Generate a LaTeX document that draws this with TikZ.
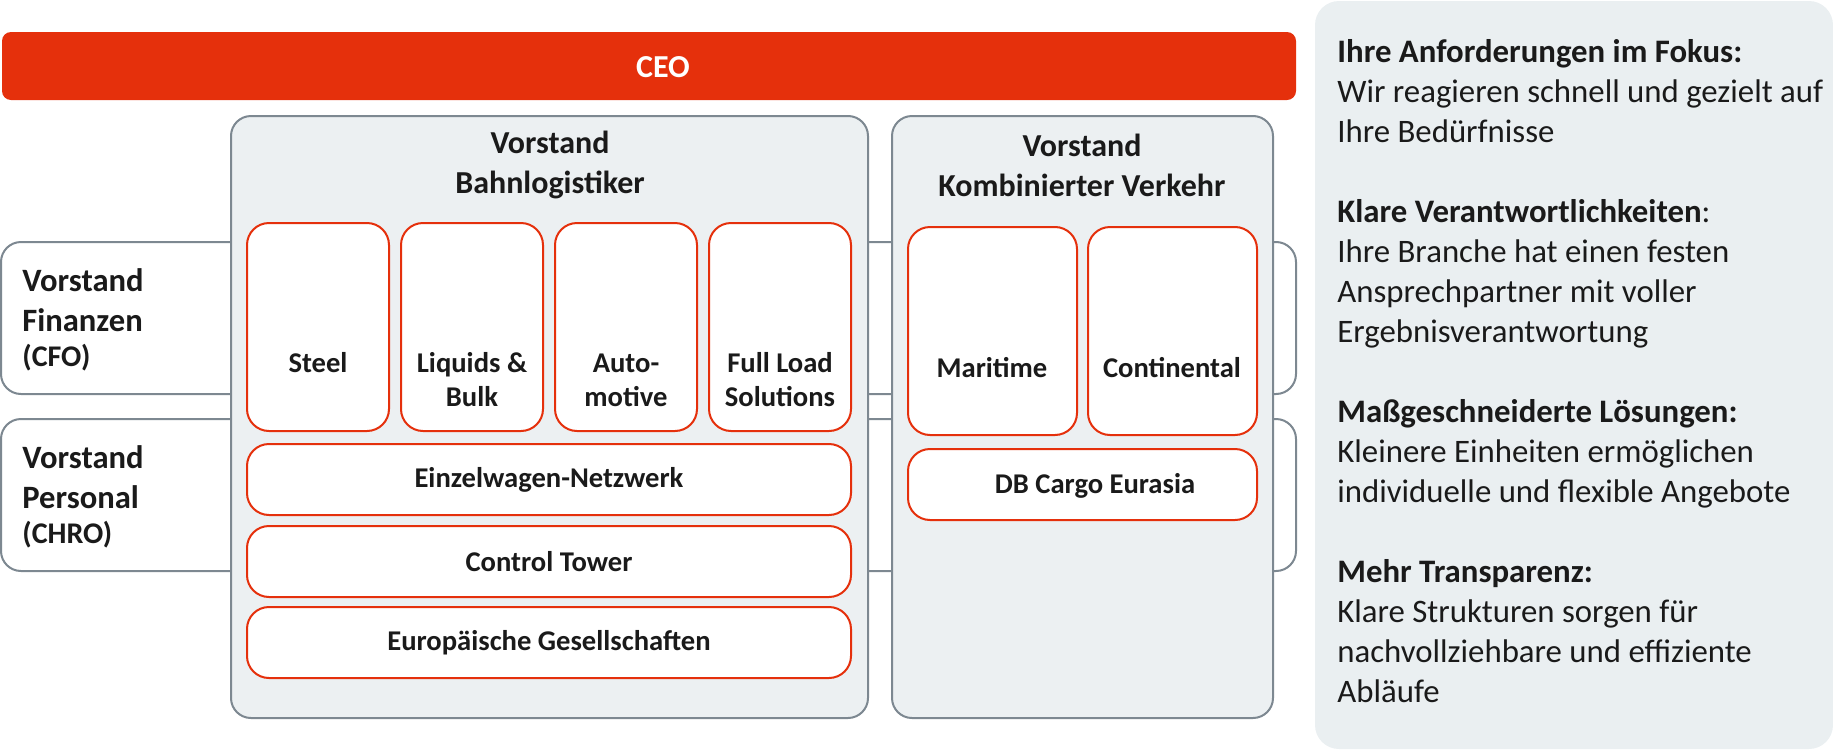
\documentclass[tikz,border=0pt]{standalone}
\usepackage{fontspec}
\setmainfont{Carlito}
\usetikzlibrary{positioning}

\definecolor{dbred}{HTML}{E5300C}
\definecolor{framegray}{HTML}{7D8891}
\definecolor{boardfill}{HTML}{ECF0F2}
\definecolor{panelfill}{HTML}{EAEFF1}
\definecolor{ink}{HTML}{1A1A1A}

\tikzset{
  side/.style={draw=framegray, line width=1pt, fill=white, rounded corners=10pt},
  board/.style={draw=framegray, line width=1pt, fill=boardfill, rounded corners=10pt},
  unit/.style={draw=dbred, line width=1pt, fill=white, rounded corners=11pt},
  unittext/.style={font=\fontsize{14.3}{17}\selectfont\bfseries, align=center, text=ink, inner sep=0pt},
  boardtitle/.style={font=\fontsize{16}{20}\selectfont\bfseries, align=center, text=ink, inner sep=0pt},
  sidetext/.style={font=\fontsize{16.3}{20}\selectfont\bfseries, align=left, text=ink, inner sep=0pt, anchor=west},
}

\begin{document}
\begin{tikzpicture}[x=0.5pt, y=-0.5pt]
  \useasboundingbox (0,0) rectangle (1833,750);

  % right panel
  \fill[panelfill, rounded corners=12pt] (1315,1) rectangle (1833,749);
  \node[anchor=north west, align=left, inner sep=0pt, text=ink, font=\fontsize{16.4}{20}\selectfont] (notes) at (1337,39.5)
    {\textbf{Ihre Anforderungen im Fokus:}\\
     Wir reagieren schnell und gezielt auf\\
     Ihre Bedürfnisse\\[20pt]
     \textbf{Klare Verantwortlichkeiten}:\\
     Ihre Branche hat einen festen\\
     Ansprechpartner mit voller\\
     Ergebnisverantwortung\\[20pt]
     \textbf{Maßgeschneiderte Lösungen:}\\
     Kleinere Einheiten ermöglichen\\
     individuelle und flexible Angebote\\[20pt]
     \textbf{Mehr Transparenz:}\\
     Klare Strukturen sorgen für\\
     nachvollziehbare und effiziente\\
     Abläufe};

  % CEO
  \fill[dbred, rounded corners=4.5pt] (2,32) rectangle (1296,100);
  \node[font=\fontsize{16}{20}\selectfont\bfseries, text=white, inner sep=0pt] (ceo) at (663,67) {CEO};

  % Finanzen und Personal (hinter den Vorstandsbereichen)
  \draw[side] (1,242) rectangle (1296,394);
  \draw[side] (1,419) rectangle (1296,571);
  \node[sidetext] (cfo) at (22,320) {Vorstand\\Finanzen\\[-2.5pt]{\fontsize{15}{18}\selectfont (CFO)}};
  \node[sidetext] (chro) at (22,497) {Vorstand\\Personal\\[-2.5pt]{\fontsize{15}{18}\selectfont (CHRO)}};

  % Vorstandsbereiche
  \draw[board] (231,116) rectangle (868,718);
  \draw[board] (892,116) rectangle (1273,718);
  \node[boardtitle] (bahn) at (550,165) {Vorstand\\Bahnlogistiker};
  \node[boardtitle] (kv) at (1082,165) {Vorstand\\Kombinierter Verkehr};

  % Bahnlogistiker
  \foreach \i in {0,1,2,3}
    \draw[unit] ({247+154*\i},223) rectangle +(142,208);
  \node[unittext] (steel) at (318,363) {Steel};
  \node[unittext] (bulk) at (472,380) {Liquids \&\\Bulk};
  \node[unittext] (auto) at (626,380) {Auto-\\motive};
  \node[unittext] (full) at (780,380) {Full Load\\Solutions};

  \draw[unit] (247,444) rectangle (851,515);
  \draw[unit] (247,526) rectangle (851,597);
  \draw[unit] (247,607) rectangle (851,678);
  \node[unittext] (ewn) at (549,480) {Einzelwagen-Netzwerk};
  \node[unittext] (ct) at (549,562) {Control Tower};
  \node[unittext] (eu) at (549,643) {Europäische Gesellschaften};

  % Kombinierter Verkehr
  \draw[unit] (908,227) rectangle (1077,435);
  \draw[unit] (1088,227) rectangle (1257,435);
  \draw[unit] (908,449) rectangle (1257,520);
  \node[unittext] (mar) at (992,368) {Maritime};
  \node[unittext] (cont) at (1172,368) {Continental};
  \node[unittext] (eura) at (1095,486) {DB Cargo Eurasia};
\end{tikzpicture}
\end{document}
